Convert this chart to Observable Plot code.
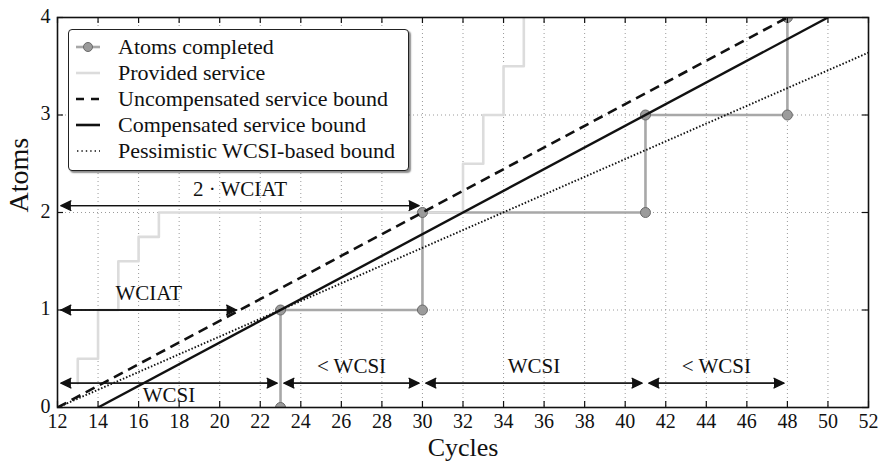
<!DOCTYPE html>
<html><head><meta charset="utf-8">
<script src="https://cdn.jsdelivr.net/npm/d3@7"></script>
<script src="https://cdn.jsdelivr.net/npm/@observablehq/plot@0.6"></script>
<style>
body{margin:0;background:#fff;}
#wrap{position:relative;width:881px;height:463px;font-family:"Liberation Serif",serif;}
#legend{position:absolute;left:68px;top:29px;width:341px;height:142px;box-sizing:border-box;border:1.5px solid #222;border-radius:4px;background:#fff;box-shadow:2px 2px 1.5px rgba(0,0,0,0.45);}
.row{position:absolute;left:0;height:26px;width:100%;font-size:22px;color:#111;}
.row svg{position:absolute;left:7px;top:6px;}
.row span{position:absolute;left:49px;top:0;line-height:26px;white-space:nowrap;}
</style></head><body><div id="wrap"></div>
<script>
// ---- data ----
const xTicks = [12,14,16,18,20,22,24,26,28,30,32,34,36,38,40,42,44,46,48,50,52];
const yTicks = [0,1,2,3,4];

// Atoms completed (step line with markers)
const atomsX = [23,23,30,30,41,41,48,48];
const atomsY = [0,1,1,2,2,3,3,4];

// Provided service (light step line)
const serviceX = [13,13,14,14,15,15,16,16,17,17,32,32,33,33,34,34,35,35];
const serviceY = [0.25,0.5,0.5,1,1,1.5,1.5,1.75,1.75,2,2,2.5,2.5,3,3,3.5,3.5,4];

// Bounds (straight lines)
const boundNames = ["Uncompensated service bound","Compensated service bound","Pessimistic WCSI-based bound"];
const boundX1 = [12,14,12];
const boundY1 = [0,0,0];
const boundX2 = [48,50,52];
const boundY2 = [4,4,3.64];

// Interval annotations (double arrows)
const spanLabels = ["2 · WCIAT","WCIAT","WCSI","< WCSI","WCSI","< WCSI"];
const spanX1 = [12,12,12,23,30,41];
const spanX2 = [30,21,23,30,41,48];
const spanY  = [2.07,1,0.25,0.25,0.25,0.25];
const spanSide = ["above","above","below","above","above","above"];

const legendLabels = ["Atoms completed","Provided service","Uncompensated service bound","Compensated service bound","Pessimistic WCSI-based bound"];

// ---- build tables ----
const atoms = atomsX.map((x,i)=>({x, y: atomsY[i]}));
const service = serviceX.map((x,i)=>({x, y: serviceY[i]}));
const bounds = boundNames.map((name,i)=>({name, x1: boundX1[i], y1: boundY1[i], x2: boundX2[i], y2: boundY2[i]}));
const spans = spanLabels.map((label,i)=>({label, x1: spanX1[i], x2: spanX2[i], y: spanY[i], side: spanSide[i]}));

const W = 881, H = 463, mL = 57, mR = 13, mT = 17, mB = 56;
const innerW = W - mL - mR, innerH = H - mT - mB;
const ink = "#111";
const atomGray = "#a8a8a8", serviceGray = "#dcdcdc";
const serifFont = '"Liberation Serif", serif';

const arrowOpts = {stroke: ink, fill: ink, strokeWidth: 1.3, headLength: 12.7, headAngle: 52, inset: 3.5};

const chart = Plot.plot({
  width: W, height: H,
  marginLeft: mL, marginRight: mR, marginTop: mT, marginBottom: mB,
  x: {domain: [12, 52]},
  y: {domain: [0, 4]},
  style: {fontFamily: serifFont, fontSize: "20px", color: ink, background: "#fff"},
  marks: [
    Plot.ruleX(xTicks, {x: d => d, stroke: "#9a9a9a", strokeDasharray: "1,3", strokeWidth: 1}),
    Plot.ruleY(yTicks, {y: d => d, stroke: "#9a9a9a", strokeDasharray: "1,3", strokeWidth: 1}),
    Plot.line(atoms, {x: "x", y: "y", stroke: atomGray, strokeWidth: 2.6, clip: true}),
    Plot.line(service, {x: "x", y: "y", stroke: serviceGray, strokeWidth: 2.6, clip: true}),
    Plot.dot(atoms, {x: "x", y: "y", r: 5, fill: "#9b9b9b", stroke: "#6a6a6a", strokeWidth: 1, clip: true}),
    Plot.link(bounds.filter(d => d.name === boundNames[0]), {x1: "x1", y1: "y1", x2: "x2", y2: "y2", stroke: ink, strokeWidth: 2.6, strokeDasharray: "10,6", clip: true}),
    Plot.link(bounds.filter(d => d.name === boundNames[1]), {x1: "x1", y1: "y1", x2: "x2", y2: "y2", stroke: ink, strokeWidth: 2.4, clip: true}),
    Plot.link(bounds.filter(d => d.name === boundNames[2]), {x1: "x1", y1: "y1", x2: "x2", y2: "y2", stroke: ink, strokeWidth: 1.9, strokeDasharray: "1.5,1.9", clip: true}),
    Plot.arrow(spans, {x1: "x1", x2: "x2", y1: "y", y2: "y", ...arrowOpts}),
    Plot.arrow(spans, {x1: "x2", x2: "x1", y1: "y", y2: "y", ...arrowOpts}),
    Plot.text(spans.filter(d => d.side === "above"), {x: d => (d.x1 + d.x2) / 2, y: "y", text: "label", lineAnchor: "bottom", dy: -10, fontSize: 21, fill: ink}),
    Plot.text(spans.filter(d => d.side === "below"), {x: d => (d.x1 + d.x2) / 2, y: "y", text: "label", lineAnchor: "bottom", dy: 19, fontSize: 21, fill: ink}),
    Plot.tickX(xTicks, {x: d => d, insetTop: innerH - 6, stroke: ink, strokeWidth: 1.2}),
    Plot.tickX(xTicks, {x: d => d, insetBottom: innerH - 6, stroke: ink, strokeWidth: 1.2}),
    Plot.tickY(yTicks, {y: d => d, insetRight: innerW - 6, stroke: ink, strokeWidth: 1.2}),
    Plot.tickY(yTicks, {y: d => d, insetLeft: innerW - 6, stroke: ink, strokeWidth: 1.2}),
    Plot.frame({stroke: ink, strokeWidth: 1.6}),
    Plot.axisX({ticks: xTicks, tickSize: 0, tickPadding: 6, label: null, fontSize: 20, tickFormat: d3.format("d")}),
    Plot.axisY({ticks: yTicks, tickSize: 0, tickPadding: 7, label: null, fontSize: 20, tickFormat: d3.format("d"), dy: -1}),
    Plot.text(["Cycles"], {text: d => d, frameAnchor: "bottom", lineAnchor: "bottom", dy: 48, fontSize: 26, fill: ink}),
    Plot.text(["Atoms"], {text: d => d, frameAnchor: "left", rotate: -90, lineAnchor: "middle", dx: -38, fontSize: 28, fill: ink})
  ]
});

const wrap = document.getElementById("wrap");
wrap.appendChild(chart);

// ---- legend (inside the plot area, top-left) ----
const swatches = [
  `<line x1="0" y1="7" x2="24" y2="7" stroke="${atomGray}" stroke-width="2.6"/><circle cx="12" cy="7" r="4.5" fill="#9b9b9b" stroke="#6a6a6a" stroke-width="1"/>`,
  `<line x1="0" y1="7" x2="24" y2="7" stroke="${serviceGray}" stroke-width="2.6"/>`,
  `<line x1="0" y1="7" x2="24" y2="7" stroke="${ink}" stroke-width="2.6" stroke-dasharray="8,7"/>`,
  `<line x1="0" y1="7" x2="24" y2="7" stroke="${ink}" stroke-width="2.6"/>`,
  `<line x1="1" y1="7" x2="24" y2="7" stroke="${ink}" stroke-width="1.4" stroke-dasharray="1.4,3"/>`
];
const legend = document.createElement("div");
legend.id = "legend";
legendLabels.forEach((lab, i) => {
  const row = document.createElement("div");
  row.className = "row";
  row.style.top = (4 + i * 26) + "px";
  row.innerHTML = `<svg width="26" height="14">${swatches[i]}</svg><span></span>`;
  row.querySelector("span").textContent = lab;
  legend.appendChild(row);
});
wrap.appendChild(legend);
</script>
</body></html>
